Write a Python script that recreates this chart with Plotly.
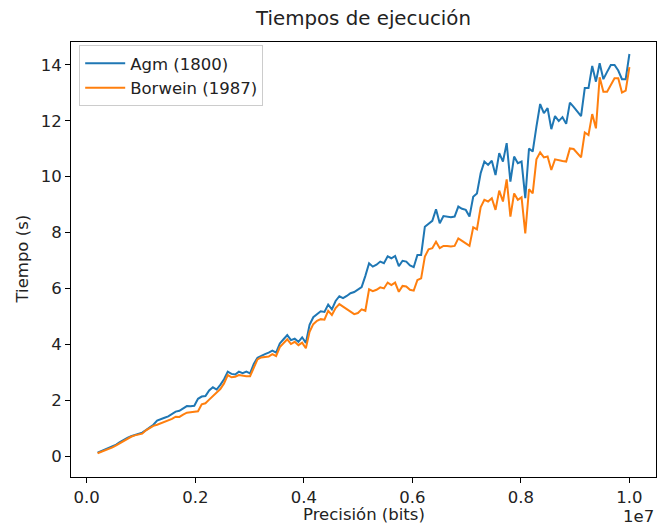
import numpy as np
import plotly.graph_objects as go

# Precision values (bits): evenly spaced samples from 2e5 to 1e7
precision = np.linspace(2e5, 1e7, 144)

agm = [0.12, 0.18, 0.24, 0.29, 0.34, 0.41, 0.50, 0.59, 0.65, 0.71,
       0.76, 0.80, 0.84, 0.93, 1.02, 1.12, 1.27, 1.31, 1.37, 1.42,
       1.50, 1.59, 1.62, 1.70, 1.79, 1.78, 1.80, 2.05, 2.13, 2.15,
       2.35, 2.46, 2.38, 2.55, 2.75, 3.02, 2.94, 2.92, 3.02, 2.97,
       3.02, 2.96, 3.30, 3.52, 3.60, 3.65, 3.70, 3.77, 3.70, 4.03,
       4.18, 4.33, 4.15, 4.20, 4.09, 4.25, 4.05, 4.70, 4.97, 5.08,
       5.18, 5.16, 5.42, 5.25, 5.55, 5.72, 5.65, 5.73, 5.83, 5.87,
       5.95, 6.05, 6.45, 6.90, 6.78, 6.85, 6.96, 6.90, 7.15, 7.08,
       7.16, 6.80, 6.99, 6.96, 6.82, 6.76, 7.20, 7.20, 8.21, 8.30,
       8.42, 8.83, 8.33, 8.59, 8.57, 8.55, 8.57, 8.93, 8.85, 8.81,
       8.57, 9.28, 9.40, 10.12, 10.54, 10.42, 10.57, 10.06, 10.84, 10.54,
       11.20, 9.82, 10.72, 10.48, 10.54, 9.23, 11.01, 10.90, 11.79, 12.60,
       12.27, 12.45, 11.70, 12.17, 11.99, 12.13, 11.89, 12.65, 12.50, 12.35,
       12.17, 13.17, 13.17, 13.96, 13.40, 14.06, 13.49, 13.75, 14.00, 14.00,
       13.80, 13.49, 13.49, 14.39]

borwein = [0.10, 0.15, 0.21, 0.26, 0.31, 0.38, 0.46, 0.55, 0.62, 0.69,
           0.74, 0.78, 0.80, 0.92, 1.00, 1.08, 1.12, 1.17, 1.22, 1.26,
           1.33, 1.41, 1.40, 1.48, 1.55, 1.57, 1.58, 1.60, 1.85, 1.89,
           2.02, 2.15, 2.25, 2.40, 2.60, 2.90, 2.82, 2.84, 2.90, 2.87,
           2.86, 2.86, 3.15, 3.46, 3.53, 3.55, 3.56, 3.65, 3.58, 3.90,
           4.05, 4.18, 4.01, 4.09, 3.97, 4.06, 3.86, 4.45, 4.72, 4.84,
           4.90, 4.88, 5.20, 5.05, 5.30, 5.44, 5.35, 5.25, 5.18, 5.08,
           5.12, 5.25, 5.20, 5.97, 5.90, 5.95, 6.04, 6.00, 6.21, 6.12,
           6.21, 5.88, 6.09, 6.07, 5.95, 5.92, 6.30, 6.36, 7.14, 7.40,
           7.44, 7.67, 7.44, 7.52, 7.52, 7.50, 7.52, 7.79, 7.70, 7.60,
           7.52, 8.19, 8.11, 8.90, 9.17, 9.11, 9.23, 8.81, 9.50, 9.11,
           9.90, 8.57, 9.40, 9.17, 9.26, 7.97, 9.55, 9.40, 10.62, 10.87,
           10.69, 10.72, 10.24, 10.62, 10.58, 10.56, 10.54, 11.01, 10.99, 10.85,
           10.69, 11.58, 11.49, 12.24, 11.73, 13.56, 13.04, 13.04, 13.30, 13.52,
           13.52, 13.01, 13.08, 13.92]

x_tickvals = [0, 2e6, 4e6, 6e6, 8e6, 1e7]
x_ticktext = ["0.0", "0.2", "0.4", "0.6", "0.8", "1.0"]
y_tickvals = [0, 2, 4, 6, 8, 10, 12, 14]

FONT = "DejaVu Sans"
FS = 16.5

fig = go.Figure()
fig.add_trace(go.Scatter(x=precision, y=agm, mode="lines", name="Agm (1800)",
                         line=dict(color="#1f77b4", width=2)))
fig.add_trace(go.Scatter(x=precision, y=borwein, mode="lines", name="Borwein (1987)",
                         line=dict(color="#ff7f0e", width=2)))

axis_common = dict(showline=True, linecolor="black", linewidth=1, mirror=True,
                   ticks="outside", ticklen=5, tickwidth=1, tickcolor="black",
                   showgrid=False, zeroline=False,
                   tickfont=dict(family=FONT, size=FS, color="#222222"))

fig.update_xaxes(range=[-2.9e5, 1.049e7], tickvals=x_tickvals, ticktext=x_ticktext,
                 **axis_common)
fig.update_yaxes(range=[-0.75, 14.82], tickvals=y_tickvals, **axis_common)

fig.update_layout(
    width=657, height=525,
    margin=dict(l=71, r=1, t=42, b=48),
    paper_bgcolor="white", plot_bgcolor="white",
    font=dict(family=FONT, size=FS, color="#222222"),
    title=dict(text="Tiempos de ejecución", x=0.5, xref="paper",
               y=1 - 18 / 525, yref="container", yanchor="middle", xanchor="center",
               font=dict(family=FONT, size=19.8, color="#222222")),
    showlegend=True,
    legend=dict(x=0.014, y=0.993, xanchor="left", yanchor="top",
                bgcolor="white", bordercolor="#cccccc", borderwidth=1,
                font=dict(family=FONT, size=FS, color="#222222"),
                itemwidth=40, tracegroupgap=0),
    annotations=[
        dict(text="Precisión (bits)", x=0.5, y=-37 / 435, xref="paper", yref="paper",
             xanchor="center", yanchor="middle", showarrow=False,
             font=dict(family=FONT, size=FS, color="#222222")),
        dict(text="1e7", x=1.0, y=-39 / 435, xref="paper", yref="paper",
             xanchor="right", yanchor="middle", showarrow=False,
             font=dict(family=FONT, size=FS, color="#222222")),
        dict(text="Tiempo (s)", x=-49 / 585, y=0.5, xref="paper", yref="paper",
             xanchor="center", yanchor="middle", textangle=-90, showarrow=False,
             font=dict(family=FONT, size=FS, color="#222222")),
    ],
)

fig.write_html("out.html")
